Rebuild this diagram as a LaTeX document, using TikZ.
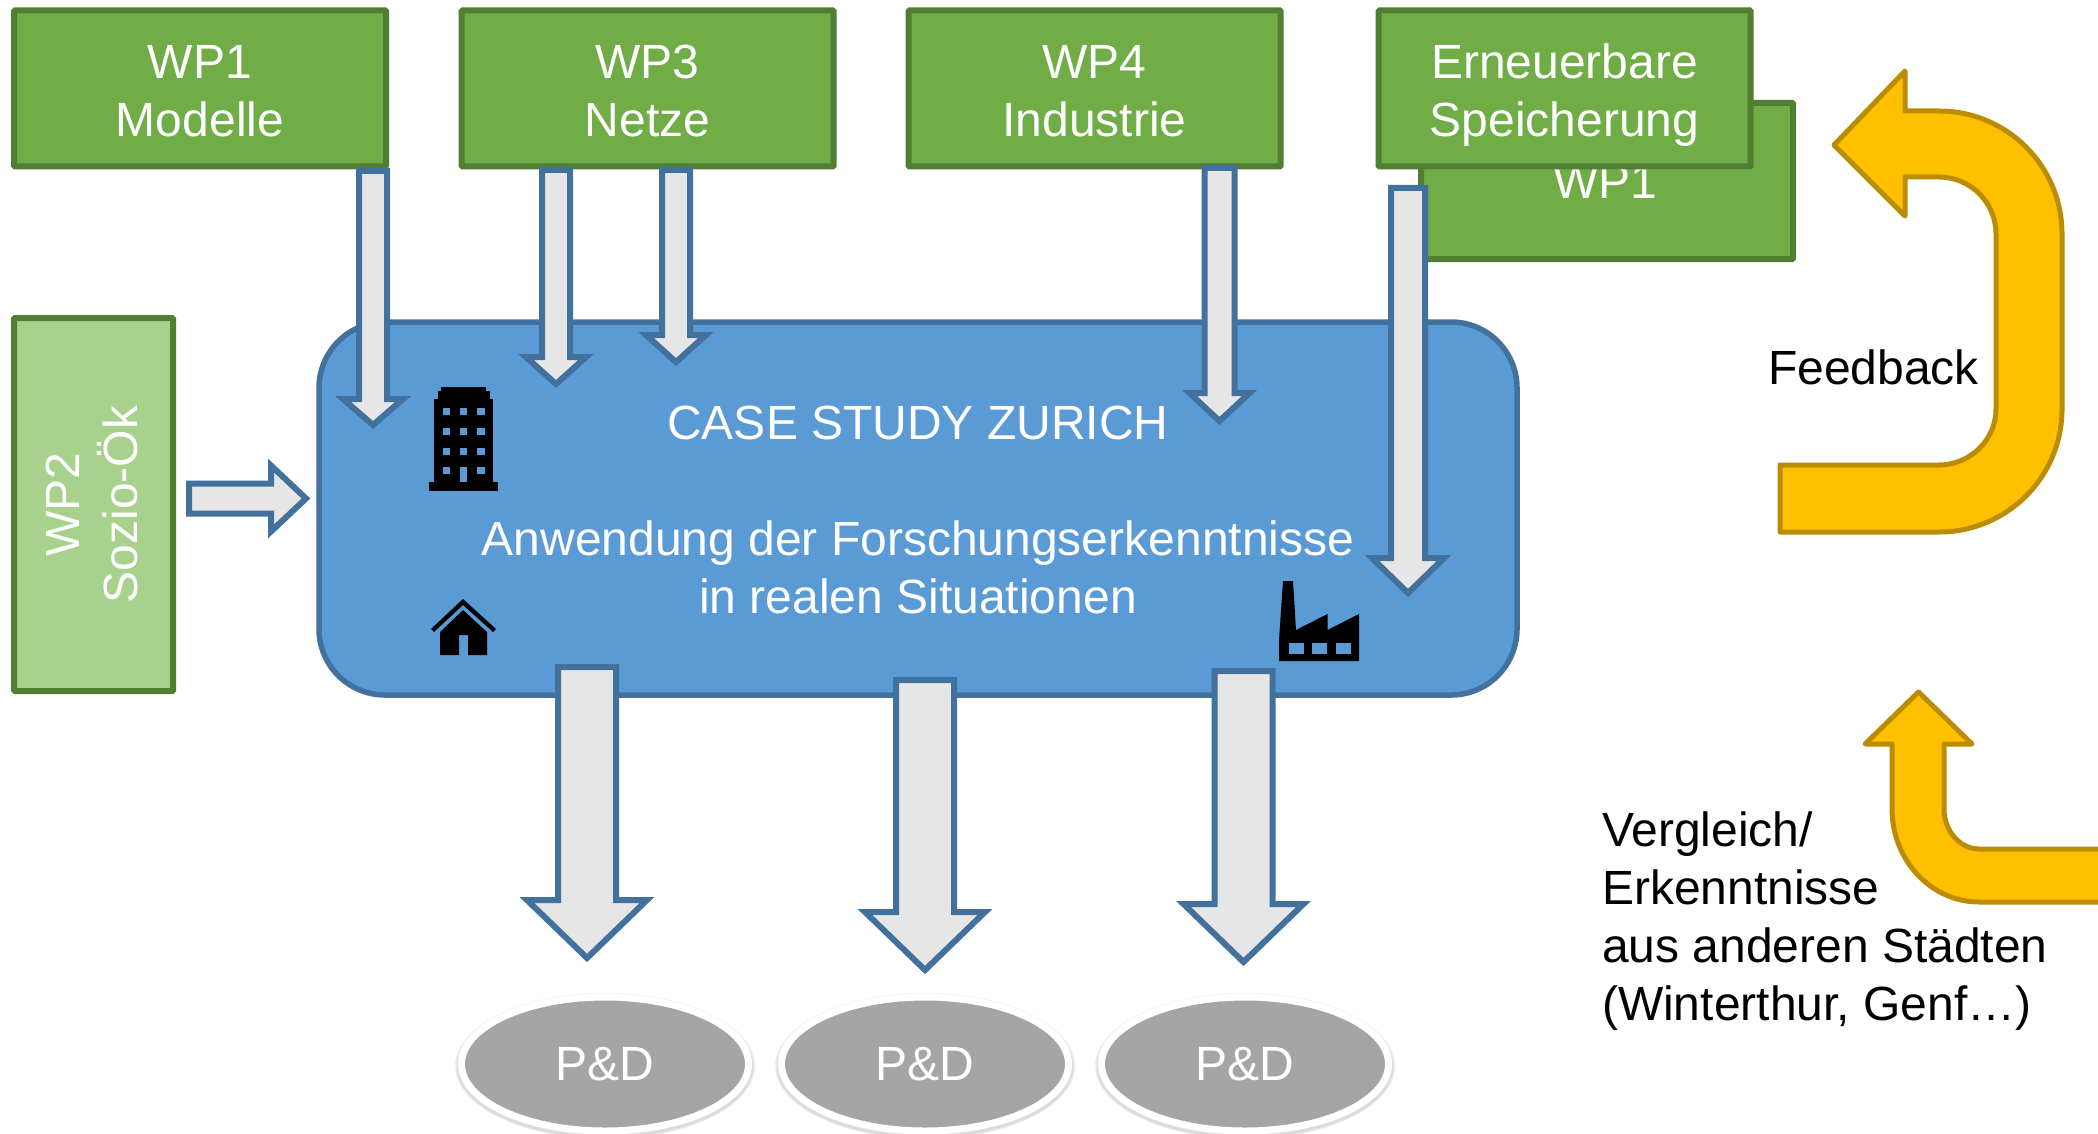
\documentclass[tikz,border=0pt]{standalone}
\usepackage{fontspec}
\setmainfont{Liberation Sans}
\usetikzlibrary{shapes.geometric,calc}
\definecolor{gfill}{HTML}{70AD47}
\definecolor{gline}{HTML}{507E32}
\definecolor{lgfill}{HTML}{A9D18E}
\definecolor{bfill}{HTML}{5B9BD5}
\definecolor{bline}{HTML}{41719C}
\definecolor{afill}{HTML}{E7E6E6}
\definecolor{yfill}{HTML}{FFC000}
\definecolor{yline}{HTML}{BC8C00}
\definecolor{pfill}{HTML}{A5A5A5}
\newcommand{\lstrut}{\rule[-10pt]{0pt}{58pt}}
\tikzset{
  txt/.style={font=\fontsize{48}{58}\selectfont,align=center,inner sep=0pt,outer sep=0pt},
  wpbox/.style={txt,rectangle,draw=gline,fill=gfill,line width=6pt,rounded corners=1pt,text=white,minimum width=372pt,minimum height=156pt},
  lightbox/.style={wpbox,fill=lgfill,minimum width=159pt,minimum height=373pt},
  casebox/.style={rectangle,rounded corners=66pt,draw=bline,fill=bfill,line width=5.5pt,minimum width=1198pt,minimum height=373pt,inner sep=0pt},
  pd/.style={txt,ellipse,fill=pfill,draw=white,line width=7pt,text=white,minimum width=287pt,minimum height=134pt},
  pdshadow/.style={fill=black,opacity=.07,draw=none},
  blockarrow/.style={draw=bline,fill=afill,line width=6pt,miter limit=10},
  yarrow/.style={draw=yline,fill=yfill,line width=5pt,line join=round},
  whitetext/.style={txt,text=white},
  blacktext/.style={txt,text=black},
  icon/.style={fill=black,draw=none},
  iconwin/.style={fill=bfill,draw=none}
}
% #1 start, #2 tip, #3 shaft half-width, #4 wing half-width, #5 head length
\newcommand{\blockdown}[5]{%
  \path[blockarrow] let \p1=(#1),\p2=(#2) in
    (\x1-#3pt,\y1) -- (\x1+#3pt,\y1) -- (\x1+#3pt,\y2+#5pt) -- (\x1+#4pt,\y2+#5pt)
    -- (\x2,\y2) -- (\x1-#4pt,\y2+#5pt) -- (\x1-#3pt,\y2+#5pt) -- cycle;}
\newcommand{\blockright}[5]{%
  \path[blockarrow] let \p1=(#1),\p2=(#2) in
    (\x1,\y1+#3pt) -- (\x2-#5pt,\y1+#3pt) -- (\x2-#5pt,\y1+#4pt) -- (\x2,\y2)
    -- (\x2-#5pt,\y1-#4pt) -- (\x2-#5pt,\y1-#3pt) -- (\x1,\y1-#3pt) -- cycle;}
\newcommand{\pdhalo}[1]{%
  \fill[pdshadow] (#1,1066) ellipse [x radius=150, y radius=73];
  \fill[pdshadow] (#1,1066.5) ellipse [x radius=148.5, y radius=71.5];}
\begin{document}
\begin{tikzpicture}[x=1pt,y=-1pt]
\clip (0,0) rectangle (2098,1134);
\useasboundingbox (0,0) rectangle (2098,1134);
\fill[white] (0,0) rectangle (2098,1134);

% back box and main blocks
\node[wpbox] (back) at (1607,181) {};
\node[whitetext] (backtxt) at (1605,182) {WP1};
\node[wpbox] (wpa) at (200,88.5) {\lstrut WP1\\\lstrut Modelle};
\node[wpbox] (wpc) at (647.5,88.5) {\lstrut WP3\\\lstrut Netze};
\node[wpbox] (wpd) at (1094.5,88.5) {\lstrut WP4\\\lstrut Industrie};
\node[wpbox] (wpe) at (1564.5,88.5) {\lstrut Erneuerbare\\\lstrut Speicherung};
\node[lightbox] (wpb) at (93.5,504.5) {};
\node[whitetext,rotate=90] (wpbtxt) at (89,504.5) {\lstrut WP2\\\lstrut Sozio-Ök};
\node[casebox] (case) at (918,508.5) {};
\node[whitetext] (casetitle) at (918,423) {CASE STUDY ZURICH};
\node[whitetext] (casebody) at (918,565) {\lstrut Anwendung der Forschungserkenntnisse\\\lstrut in realen Situationen};

% ellipses
\pdhalo{605}\pdhalo{925}\pdhalo{1245}
\node[pd] (pa) at (605,1064) {P\&D};
\node[pd] (pb) at (925,1064) {P\&D};
\node[pd] (pc) at (1245,1064) {P\&D};

% block arrows
\coordinate (a1s) at (373,171);  \coordinate (a1t) at (373,425);
\coordinate (a2s) at (556,170);  \coordinate (a2t) at (556,384);
\coordinate (a3s) at (676,170);  \coordinate (a3t) at (676,362);
\coordinate (a4s) at (1219.5,168); \coordinate (a4t) at (1219.5,421);
\coordinate (a5s) at (1408,188); \coordinate (a5t) at (1408,593);
\coordinate (b1s) at (587,667);  \coordinate (b1t) at (587,958);
\coordinate (b2s) at (925,680);  \coordinate (b2t) at (925,970);
\coordinate (b3s) at (1243.5,671); \coordinate (b3t) at (1243.5,962);
\coordinate (ls) at (189,498.5); \coordinate (lt) at (306,498.5);
\blockdown{a1s}{a1t}{14}{30}{26}
\blockdown{a2s}{a2t}{14}{30}{27}
\blockdown{a3s}{a3t}{14}{30}{27}
\blockdown{a4s}{a4t}{15}{30}{28}
\blockdown{a5s}{a5t}{17}{36}{35}
\blockdown{b1s}{b1t}{29}{60}{58}
\blockdown{b2s}{b2t}{29}{60}{58}
\blockdown{b3s}{b3t}{29}{60}{58}
\blockright{ls}{lt}{15}{33}{35}

% yellow arrows
\draw[yarrow] (1834,145) -- (1905,71) -- (1905,111) -- (1939,111)
  .. controls (2007,111) and (2062,166) .. (2062,234) -- (2062,409)
  .. controls (2062,477) and (2007,532) .. (1939,532) -- (1780,532) -- (1780,465) -- (1939,465)
  .. controls (1970,465) and (1996,440) .. (1996,409) -- (1996,234)
  .. controls (1996,202) and (1970,177) .. (1939,177) -- (1905,177) -- (1905,216) -- cycle;
\draw[yarrow] (1918.5,692) -- (1972,744) -- (1944,744) -- (1944,809)
  .. controls (1944,831) and (1960,849) .. (1979,849) -- (2110,849) -- (2110,902) -- (1979,902)
  .. controls (1931,902) and (1892,860) .. (1892,809) -- (1892,744) -- (1865,744) -- cycle;

% labels
\node[blacktext,anchor=west] (fb) at (1768,367) {Feedback};
\node[blacktext,anchor=north west,align=left] (vg) at (1602,798) {\lstrut Vergleich/\\\lstrut Erkenntnisse\\\lstrut aus anderen Städten\\\lstrut (Winterthur, Genf…)};

% building icon
\fill[icon] (429,482) rectangle (498,491);
\fill[icon] (434,399) rectangle (493,482);
\fill[icon] (438,391) rectangle (490,399);
\fill[icon] (441,387) rectangle (486,391);
\foreach \wy in {408,428,448,467}{
  \fill[iconwin] (443,\wy) rectangle +(7,7);
  \fill[iconwin] (477,\wy) rectangle +(8,7);
}
\foreach \wy in {408,428,448}{\fill[iconwin] (460,\wy) rectangle +(7,7);}
\fill[iconwin] (460,467) rectangle (467,482);

% house icon
\fill[icon] (463,599) -- (496,629) -- (493,632) -- (463,605) -- (434,632) -- (431,629) -- cycle;
\fill[icon] (463,610) -- (487,632) -- (487,655) -- (468,655) -- (468,635) -- (459,635) -- (459,655) -- (440,655) -- (440,632) -- cycle;

% factory icon
\fill[icon] (1279,661) -- (1279,640) -- (1283,581) -- (1293,581) -- (1296,630) -- (1327.5,614) -- (1327.5,630) -- (1359,614) -- (1359,661) -- cycle;
\foreach \wx in {1289,1312,1336}{\fill[iconwin] (\wx,643) rectangle +(15,11);}
\end{tikzpicture}
\end{document}
